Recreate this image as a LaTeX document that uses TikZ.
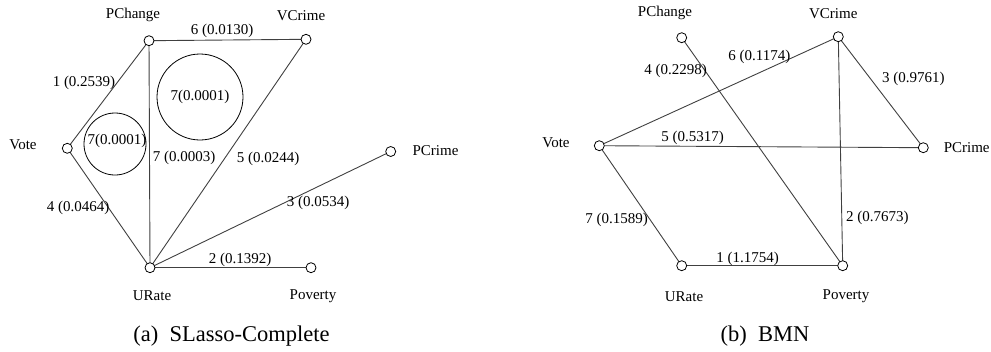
\documentclass[tikz,border=0pt]{standalone}
\usepackage{fontspec}
\setmainfont{Liberation Serif}
\begin{document}
\begin{tikzpicture}[x=1pt,y=-1pt,
  vtx/.style={circle,draw=black,fill=white,line width=0.8pt,minimum size=10pt,inner sep=0pt},
  lbl/.style={inner sep=0pt,font=\fontsize{15}{18}\selectfont},
  captext/.style={inner sep=0pt,font=\fontsize{22.5}{26}\selectfont},
  edge/.style={draw=black!75,line width=0.9pt},
  ring/.style={draw=black,line width=0.8pt}]
\useasboundingbox (0,0) rectangle (991,351);
% ---------- left panel ----------
\coordinate (aPC) at (149,40.7);
\coordinate (aVC) at (306,39.3);
\coordinate (aVo) at (67.3,148.3);
\coordinate (aPr) at (390.7,151.5);
\coordinate (aUR) at (150,267.7);
\coordinate (aPo) at (311,267.7);
\draw[edge] (aPC) -- (aVC);
\draw[edge] (aPC) -- (aVo);
\draw[edge] (aPC) -- (aUR);
\draw[edge] (aVC) -- (aUR);
\draw[edge] (aVo) -- (aUR);
\draw[edge] (aUR) -- (aPr);
\draw[edge] (aUR) -- (aPo);
\foreach \n in {aPC,aVC,aVo,aPr,aUR,aPo} {\node[vtx] (n\n) at (\n) {};}
\node[lbl] (taPC) at (133,15) {PChange};
\node[lbl] (taVC) at (301,16) {VCrime};
\node[lbl] (taVo) at (23,145) {Vote};
\node[lbl] (taPr) at (435.5,150.7) {PCrime};
\node[lbl] (taUR) at (152,296) {URate};
\node[lbl] (taPo) at (313,296) {Poverty};
\draw[ring] (200,97) circle[radius=43];
\draw[ring] (115,144) circle[radius=31];
\node[lbl] (eaR1) at (200,97) {7(0.0001)};
\node[lbl] (eaR2) at (117,141) {7(0.0001)};
\node[lbl] (ea1) at (84,83) {1 (0.2539)};
\node[lbl] (ea6) at (222,31) {6 (0.0130)};
\node[lbl] (ea7) at (184,158) {7 (0.0003)};
\node[lbl] (ea5) at (268,159) {5 (0.0244)};
\node[lbl] (ea4) at (78,208) {4 (0.0464)};
\node[lbl] (ea3) at (318,203) {3 (0.0534)};
\node[lbl] (ea2) at (240,260) {2 (0.1392)};
\node[captext] (capa) at (231.5,336) {(a)\hspace{0.5em}SLasso-Complete};
% ---------- right panel ----------
\coordinate (bPC) at (681.7,37.7);
\coordinate (bVC) at (838.3,36.7);
\coordinate (bVo) at (599.3,145.7);
\coordinate (bPr) at (923.3,147.7);
\coordinate (bUR) at (681.7,265.7);
\coordinate (bPo) at (842.7,265.7);
\draw[edge] (bPC) -- (bPo);
\draw[edge] (bVo) -- (bVC);
\draw[edge] (bVC) -- (bPr);
\draw[edge] (bVC) -- (bPo);
\draw[edge] (bVo) -- (bPr);
\draw[edge] (bVo) -- (bUR);
\draw[edge] (bUR) -- (bPo);
\foreach \n in {bPC,bVC,bVo,bPr,bUR,bPo} {\node[vtx] (n\n) at (\n) {};}
\node[lbl] (tbPC) at (665,12.7) {PChange};
\node[lbl] (tbVC) at (833.3,13.3) {VCrime};
\node[lbl] (tbVo) at (556,142.7) {Vote};
\node[lbl] (tbPr) at (966.7,147.7) {PCrime};
\node[lbl] (tbUR) at (684,296.7) {URate};
\node[lbl] (tbPo) at (846,296) {Poverty};
\node[lbl] (eb4) at (675.7,71) {4 (0.2298)};
\node[lbl] (eb6) at (759.3,56.7) {6 (0.1174)};
\node[lbl] (eb3) at (913.3,79) {3 (0.9761)};
\node[lbl] (eb5) at (692.7,138.3) {5 (0.5317)};
\node[lbl] (eb7) at (616.7,220) {7 (0.1589)};
\node[lbl] (eb2) at (877.3,217.7) {2 (0.7673)};
\node[lbl] (eb1) at (747.7,259.3) {1 (1.1754)};
\node[captext] (capb) at (765,336) {(b)\hspace{0.5em}BMN};
\end{tikzpicture}
\end{document}
